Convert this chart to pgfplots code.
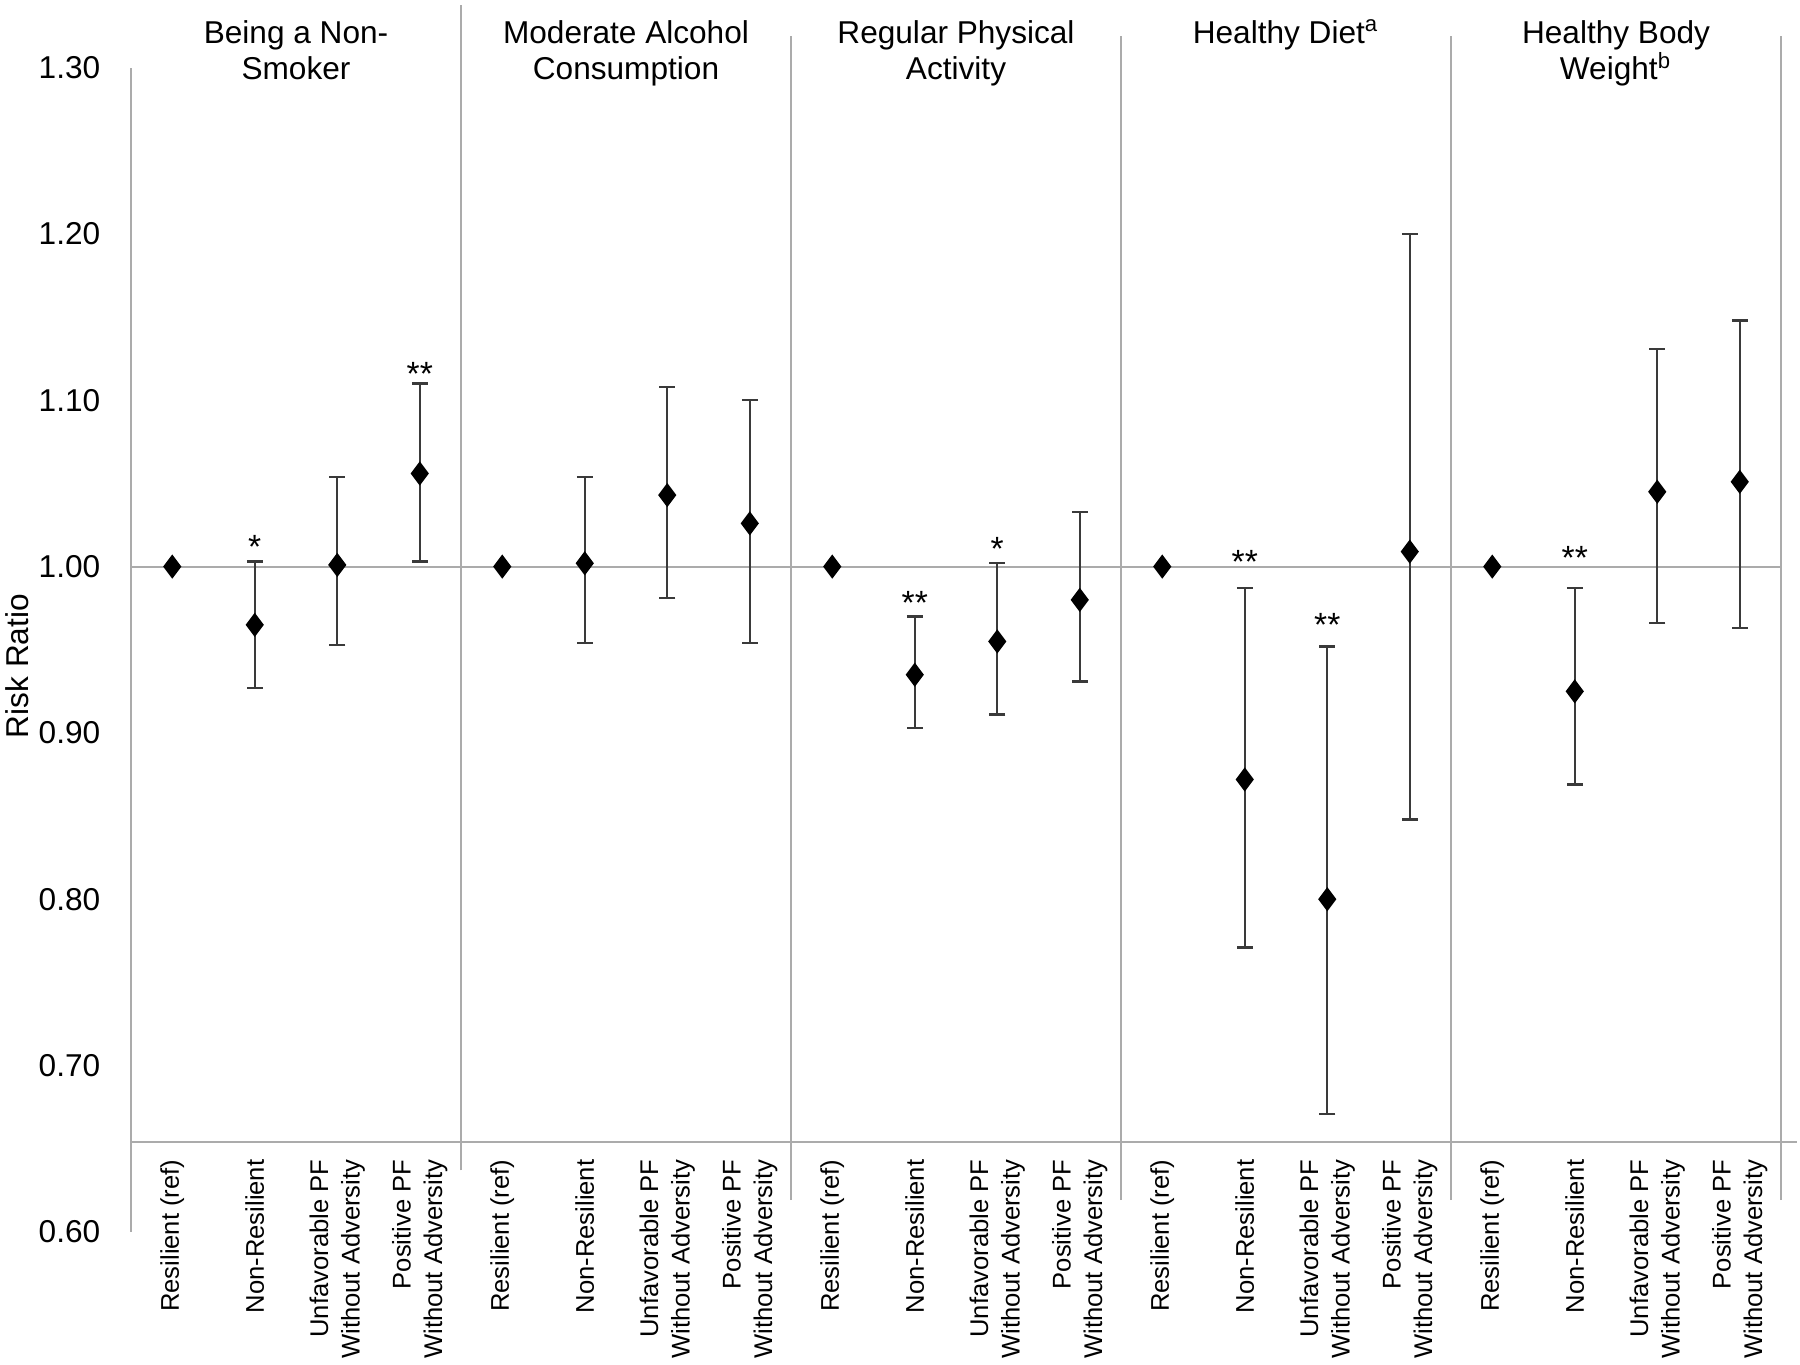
\documentclass[border=0pt]{standalone}
\usepackage{fontspec}
\setmainfont{Liberation Sans}
\usepackage{pgfplots}
\usepackage{pgfplotstable}
\pgfplotsset{compat=1.18}

\definecolor{rulegray}{HTML}{ABABAB}
\definecolor{barcol}{HTML}{3A3A3A}

\tikzset{
  sigmark/.style={font=\fontsize{8.4}{9}\selectfont, inner sep=0pt, anchor=center},
  grouphead/.style={font=\fontsize{7.9}{9}\selectfont, inner sep=0pt, anchor=base},
}

% reference category: risk ratio fixed at 1
\pgfplotstableread{
x y
0.5 1.000
4.5 1.000
8.5 1.000
12.5 1.000
16.5 1.000
}\refdata

% estimate, distance to upper and lower bound of the interval
\pgfplotstableread{
x y ep em
1.5 0.965 0.038 0.038
2.5 1.001 0.053 0.048
3.5 1.056 0.054 0.053
5.5 1.002 0.052 0.048
6.5 1.043 0.065 0.062
7.5 1.026 0.074 0.072
9.5 0.935 0.035 0.032
10.5 0.955 0.047 0.044
11.5 0.980 0.053 0.049
13.5 0.872 0.115 0.101
14.5 0.800 0.152 0.129
15.5 1.009 0.191 0.161
17.5 0.925 0.062 0.056
18.5 1.045 0.086 0.079
19.5 1.051 0.097 0.088
}\riskdata

\begin{document}
\begin{tikzpicture}
\begin{axis}[
  scale only axis,
  width=412.5pt, height=291.05pt,
  xmin=0, xmax=20, ymin=0.6, ymax=1.3,
  clip=false,
  axis line style={draw=none},
  major tick length=0pt,
  ytick={0.6,0.7,0.8,0.9,1.0,1.1,1.2,1.3},
  /pgf/number format/fixed,
  /pgf/number format/fixed zerofill,
  /pgf/number format/precision=2,
  /pgf/number format/assume math mode=true,
  yticklabel style={font=\fontsize{7.9}{9}\selectfont, inner sep=0pt},
  yticklabel shift=7.5pt,
  xtick={0.5,1.5,...,19.5},
  xticklabels={
    {Resilient (ref)},{Non-Resilient},{Unfavorable PF\\Without Adversity},{Positive PF\\Without Adversity},
    {Resilient (ref)},{Non-Resilient},{Unfavorable PF\\Without Adversity},{Positive PF\\Without Adversity},
    {Resilient (ref)},{Non-Resilient},{Unfavorable PF\\Without Adversity},{Positive PF\\Without Adversity},
    {Resilient (ref)},{Non-Resilient},{Unfavorable PF\\Without Adversity},{Positive PF\\Without Adversity},
    {Resilient (ref)},{Non-Resilient},{Unfavorable PF\\Without Adversity},{Positive PF\\Without Adversity}},
  xticklabel style={rotate=90, anchor=east, align=right, inner sep=0pt,
    font=\fontsize{6.4}{7.9}\selectfont},
  xticklabel shift=-18.25pt,
  ylabel={Risk Ratio},
  ylabel style={at={(axis description cs:-0.069,0.486)}, anchor=center,
    font=\fontsize{7.9}{9}\selectfont},
]
% frame pieces and separators
\draw[rulegray, line width=0.55pt] (axis cs:0,0.6) -- (axis cs:0,1.3);
\draw[rulegray, line width=0.55pt] (axis cs:0,0.654) -- (axis cs:20.19,0.654);
\draw[rulegray, line width=0.55pt] (axis cs:0,1.0) -- (axis cs:20,1.0);
\draw[rulegray, line width=0.55pt] (axis cs:4,0.637) -- (axis cs:4,1.3377);
\draw[rulegray, line width=0.55pt] (axis cs:8,0.619) -- (axis cs:8,1.319);
\draw[rulegray, line width=0.55pt] (axis cs:12,0.619) -- (axis cs:12,1.319);
\draw[rulegray, line width=0.55pt] (axis cs:16,0.619) -- (axis cs:16,1.319);
\draw[rulegray, line width=0.55pt] (axis cs:20,0.619) -- (axis cs:20,1.319);

\addplot[only marks, mark=diamond*, mark size=2.7pt, black,
  error bars/.cd, y dir=both, y explicit,
  error bar style={barcol, line width=0.6pt},
  error mark options={rotate=90, barcol, line width=0.6pt, mark size=2pt}]
  table[x=x, y=y, y error plus=ep, y error minus=em] {\riskdata};
\addplot[only marks, mark=diamond*, mark size=2.7pt, black] table[x=x, y=y] {\refdata};

% significance marks
\node[sigmark] at (axis cs:1.5,1.012) {*};
\node[sigmark] at (axis cs:3.5,1.116) {**};
\node[sigmark] at (axis cs:9.5,0.978) {**};
\node[sigmark] at (axis cs:10.5,1.0105) {*};
\node[sigmark] at (axis cs:13.5,1.003) {**};
\node[sigmark] at (axis cs:14.5,0.965) {**};
\node[sigmark] at (axis cs:17.5,1.005) {**};

% group headings
\node[grouphead] at (axis cs:2,1.3147) {Being a Non-};
\node[grouphead] at (axis cs:2,1.2926) {Smoker};
\node[grouphead] at (axis cs:6,1.3147) {Moderate Alcohol};
\node[grouphead] at (axis cs:6,1.2926) {Consumption};
\node[grouphead] at (axis cs:10,1.3147) {Regular Physical};
\node[grouphead] at (axis cs:10,1.2926) {Activity};
\node[grouphead] at (axis cs:14,1.3147) {Healthy Diet\textsuperscript{a}};
\node[grouphead] at (axis cs:18,1.3147) {Healthy Body};
\node[grouphead] at (axis cs:18,1.2926) {Weight\textsuperscript{b}};

\coordinate (BL) at (axis cs:-1.588,0.520);
\coordinate (TR) at (axis cs:20.230,1.3407);
\end{axis}
\pgfresetboundingbox
\path[use as bounding box] (BL) rectangle (TR);
\end{tikzpicture}
\end{document}
